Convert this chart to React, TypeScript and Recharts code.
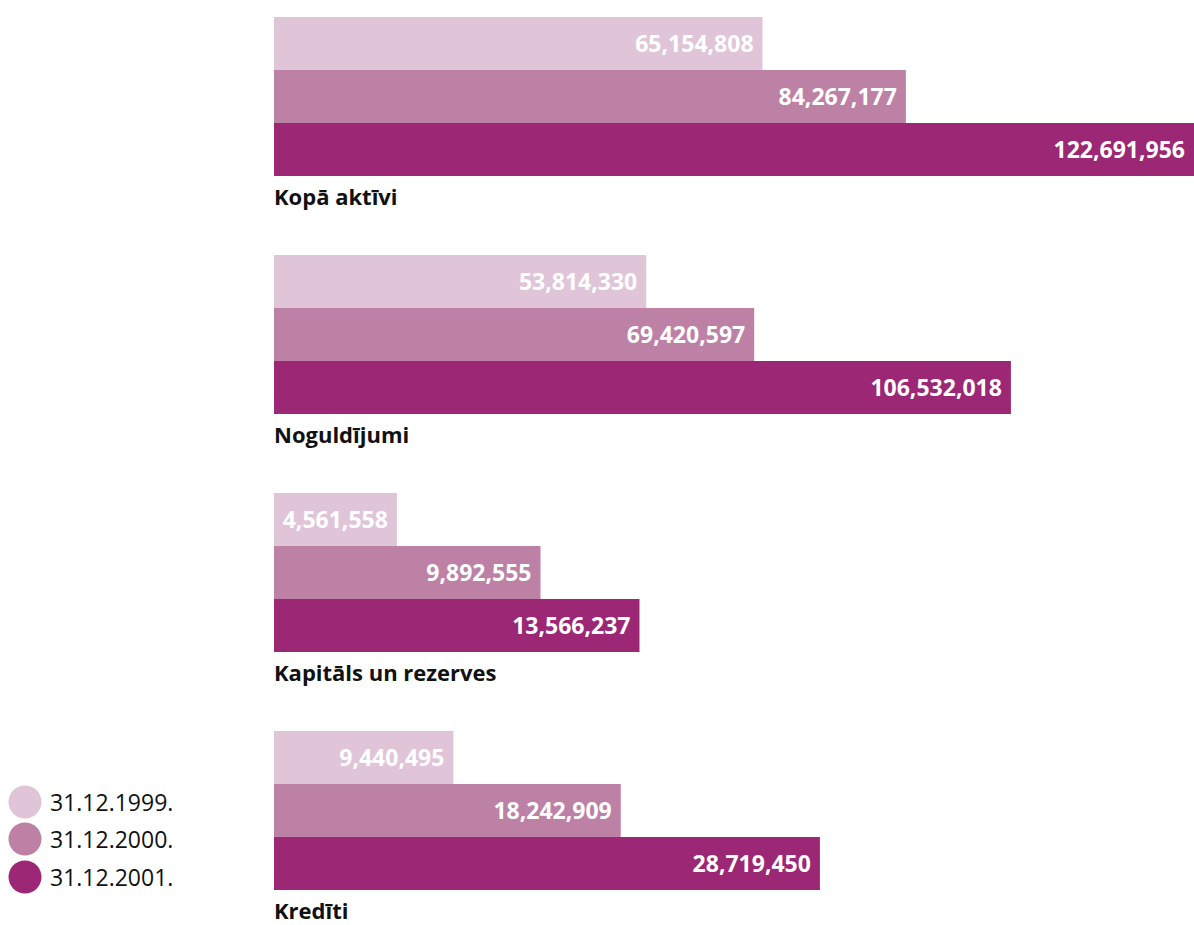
import React from "react"
import { Bar, BarChart, LabelList, XAxis, YAxis } from "recharts"

const categories = ["Kopā aktīvi", "Noguldījumi", "Kapitāls un rezerves", "Kredīti"]
const values1999 = [65154808, 53814330, 4561558, 9440495]
const values2000 = [84267177, 69420597, 9892555, 18242909]
const values2001 = [122691956, 106532018, 13566237, 28719450]
const seriesNames = ["31.12.1999.", "31.12.2000.", "31.12.2001."]
// each group in the original is drawn on its own scale
const groupScaleMax = [122691956, 133000000, 34150000, 48400000]

const colors = ["#E0C5D9", "#BD81A6", "#9B2775"]
const font = "'Open Sans', sans-serif"

const fmt = (v: any) => Number(v).toLocaleString("en-US")

function CategoryTick(props: any) {
  const { y, payload } = props
  return (
    <text x={274} y={y + 79.5 + 29} textAnchor="start" fill="#111" fontSize={22} fontWeight={700} fontFamily={font}>
      {payload.value}
    </text>
  )
}

function Group({ index }: { index: number }) {
  const data = [
    {
      name: categories[index],
      y1999: values1999[index],
      y2000: values2000[index],
      y2001: values2001[index],
    },
  ]
  const keys = ["y1999", "y2000", "y2001"]
  return (
    <div style={{ position: "absolute", left: 0, top: 17 + 238 * index }}>
      <BarChart
        width={1194}
        height={238}
        layout="vertical"
        data={data}
        margin={{ top: 0, right: 0, bottom: 79, left: 214 }}
        barCategoryGap={0}
        barGap={0}
        style={{ overflow: "visible" }}
      >
        <XAxis type="number" domain={[0, groupScaleMax[index]]} hide allowDataOverflow />
        <YAxis type="category" dataKey="name" width={60} axisLine={false} tickLine={false} tick={CategoryTick} interval={0} />
        {keys.map((k, i) => (
          <Bar key={k} dataKey={k} name={seriesNames[i]} fill={colors[i]} isAnimationActive={false}>
            <LabelList
              dataKey={k}
              position="insideRight"
              offset={9}
              fill="#fff"
              fontSize={23}
              fontWeight={700}
              fontFamily={font}
              formatter={fmt}
            />
          </Bar>
        ))}
      </BarChart>
    </div>
  )
}

function Legend() {
  return (
    <div style={{ position: "absolute", left: 8, top: 783, fontFamily: font }}>
      {seriesNames.map((s, i) => (
        <div key={s} style={{ display: "flex", alignItems: "center", height: 37.5 }}>
          <svg width={34} height={34} style={{ marginRight: 8 }}>
            <circle cx={17} cy={17} r={16.5} fill={colors[i]} />
          </svg>
          <span style={{ fontSize: 23, color: "#111" }}>{s}</span>
        </div>
      ))}
    </div>
  )
}

export default function App() {
  return (
    <div style={{ position: "absolute", left: 0, top: 0, width: 1194, height: 925, overflow: "hidden", background: "#fff" }}>
      {categories.map((c, i) => (
        <Group key={c} index={i} />
      ))}
      <Legend />
    </div>
  )
}
